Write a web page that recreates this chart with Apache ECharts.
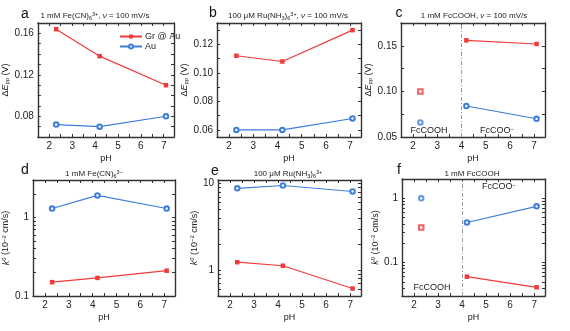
<!DOCTYPE html>
<html><head><meta charset="utf-8">
<script src="https://cdn.jsdelivr.net/npm/echarts@6/dist/echarts.min.js"></script>
<style>html,body{margin:0;padding:0;background:#fff}#c{width:570px;height:331px}</style>
</head><body><div id="c"></div>
<script>
// ---- data ----
const pH = [2.3, 4.2, 7.1];
const dEpp_Fe_GrAu = [0.164, 0.138, 0.110];
const dEpp_Fe_Au   = [0.072, 0.070, 0.080];
const dEpp_Ru_GrAu = [0.112, 0.108, 0.130];
const dEpp_Ru_Au   = [0.060, 0.060, 0.068];
const dEpp_Fc_GrAu = [0.100, 0.156, 0.152]; // first point isolated (FcCOOH)
const dEpp_Fc_Au   = [0.066, 0.084, 0.070];
const k0_Fe_GrAu = [0.150, 0.170, 0.210];
const k0_Fe_Au   = [1.30, 1.91, 1.30];
const k0_Ru_GrAu = [1.23, 1.12, 0.61];
const k0_Ru_Au   = [8.8, 9.5, 8.1];
const k0_Fc_GrAu = [0.35, 0.060, 0.041];
const k0_Fc_Au   = [1.0, 0.42, 0.75];
const xTickLabels = [2, 3, 4, 5, 6, 7];
const xMinorTicks = [1.5, 2, 2.5, 3, 3.5, 4, 4.5, 5, 5.5, 6, 6.5, 7];
const pKaLine = 4;
const seriesNames = ['Gr @ Au', 'Au'];

const RED = '#f23a3a', BLUE = '#3d7ddb', AX = '#333';
const FONT = 'Liberation Sans, Arial, sans-serif';

const grids = [
  {left: 32, top: 23, width: 142, height: 114},
  {left: 217, top: 23, width: 144, height: 114},
  {left: 401, top: 23, width: 144, height: 114},
  {left: 32, top: 180, width: 143, height: 116},
  {left: 218, top: 180, width: 143, height: 116},
  {left: 402, top: 179, width: 143, height: 117}
];

const yCfg = [
  {type: 'value', min: 0.06, max: 0.17, labels: [0.08, 0.12, 0.16], ticks: [0.06,0.07,0.08,0.09,0.10,0.11,0.12,0.13,0.14,0.15,0.16,0.17], dec: 2, gap: 24},
  {type: 'value', min: 0.055, max: 0.135, labels: [0.06, 0.08, 0.10, 0.12], ticks: [0.06,0.07,0.08,0.09,0.10,0.11,0.12,0.13], dec: 2, gap: 24},
  {type: 'value', min: 0.05, max: 0.175, labels: [0.05, 0.10, 0.15], ticks: [0.05,0.075,0.10,0.125,0.15,0.175], dec: 2, gap: 24},
  {type: 'log', min: 0.1, max: 3, labels: [0.1, 1], ticks: [0.1,0.2,0.3,0.4,0.5,0.6,0.7,0.8,0.9,1,2,3], gap: 22},
  {type: 'log', min: 0.5, max: 11, labels: [1, 10], ticks: [0.5,0.6,0.7,0.8,0.9,1,2,3,4,5,6,7,8,9,10], gap: 14},
  {type: 'log', min: 0.03, max: 2, labels: [0.1, 1], ticks: [0.03,0.04,0.05,0.06,0.07,0.08,0.09,0.1,0.2,0.3,0.4,0.5,0.6,0.7,0.8,0.9,1,2], gap: 18}
];

const richName = {
  n: {fontSize: 9, fontFamily: FONT, color: '#222'},
  it: {fontSize: 9, fontFamily: FONT, color: '#222', fontStyle: 'italic'},
  sub: {fontSize: 6, fontFamily: FONT, color: '#222', verticalAlign: 'bottom', padding: [4, 0, 0, 0]},
  sup: {fontSize: 6, fontFamily: FONT, color: '#222', verticalAlign: 'top', padding: [0, 0, 4, 0]}
};
const dEName = '{n|Δ}{it|E}{sub|pp}{n| (V)}';
const kName = '{it|k}{sup|0}{n| (10}{sup|−2}{n| cm/s)}';

const xAxis = [], yAxis = [];
grids.forEach((g, i) => {
  const base = {
    type: 'value', gridIndex: i, min: 1.5, max: 7.45,
    axisLine: {show: true, onZero: false, lineStyle: {color: AX, width: 1.4}},
    axisTick: {show: true, inside: true, length: 3, customValues: xMinorTicks, lineStyle: {color: AX}},
    splitLine: {show: false}
  };
  xAxis.push(Object.assign({}, base, {
    position: 'bottom',
    axisLabel: {customValues: xTickLabels, fontSize: 10, color: '#222', fontFamily: FONT, margin: 4},
    name: 'pH', nameLocation: 'middle', nameGap: 17,
    nameTextStyle: {fontSize: 9, color: '#222', fontFamily: FONT}
  }));
  xAxis.push(Object.assign({}, base, {position: 'top', axisLabel: {show: false}}));
  const c = yCfg[i];
  const ybase = {
    type: c.type, gridIndex: i, min: c.min, max: c.max,
    axisLine: {show: true, onZero: false, lineStyle: {color: AX, width: 1.4}},
    axisTick: {show: true, inside: true, length: 3, customValues: c.ticks, lineStyle: {color: AX}},
    splitLine: {show: false}, minorTick: {show: false}
  };
  yAxis.push(Object.assign({}, ybase, {
    position: 'left',
    axisLabel: {customValues: c.labels, fontSize: 10, color: '#222', fontFamily: FONT, margin: 4,
      formatter: v => c.dec ? v.toFixed(c.dec) : String(v)},
    name: i < 3 ? dEName : kName, nameLocation: 'middle', nameGap: c.gap, nameRotate: 90,
    nameTextStyle: {rich: richName}
  }));
  yAxis.push(Object.assign({}, ybase, {position: 'right', axisLabel: {show: false}}));
});

function pts(ys, from, to) {
  const out = [];
  for (let k = from; k < to; k++) out.push([pH[k], ys[k]]);
  return out;
}
const series = [];
function addLine(i, ys, isGr, from, to, named) {
  series.push({
    type: 'line', name: named ? seriesNames[isGr ? 0 : 1] : undefined,
    xAxisIndex: 2 * i, yAxisIndex: 2 * i,
    data: pts(ys, from, to),
    symbol: isGr ? 'rect' : 'emptyCircle', symbolSize: isGr ? 4.5 : 4.5,
    lineStyle: {color: isGr ? RED : BLUE, width: 1.2},
    itemStyle: {color: isGr ? RED : BLUE, borderWidth: isGr ? 0 : 1.3},
    z: isGr ? 3 : 4, animation: false
  });
}
function addIso(i, ys, isGr) {
  series.push({
    type: 'scatter', xAxisIndex: 2 * i, yAxisIndex: 2 * i,
    data: pts(ys, 0, 1),
    symbol: isGr ? 'emptyRect' : 'emptyCircle', symbolSize: 4.5,
    itemStyle: {color: isGr ? RED : BLUE, borderWidth: 1.2}, animation: false
  });
}
addLine(0, dEpp_Fe_GrAu, true, 0, 3, true);
addLine(0, dEpp_Fe_Au, false, 0, 3, true);
addLine(1, dEpp_Ru_GrAu, true, 0, 3);
addLine(1, dEpp_Ru_Au, false, 0, 3);
addLine(2, dEpp_Fc_GrAu, true, 1, 3);
addLine(2, dEpp_Fc_Au, false, 1, 3);
addIso(2, dEpp_Fc_GrAu, true);
addIso(2, dEpp_Fc_Au, false);
addLine(3, k0_Fe_GrAu, true, 0, 3);
addLine(3, k0_Fe_Au, false, 0, 3);
addLine(4, k0_Ru_GrAu, true, 0, 3);
addLine(4, k0_Ru_Au, false, 0, 3);
addLine(5, k0_Fc_GrAu, true, 1, 3);
addLine(5, k0_Fc_Au, false, 1, 3);
addIso(5, k0_Fc_GrAu, true);
addIso(5, k0_Fc_Au, false);

[2, 5].forEach(i => {
  series.push({
    type: 'line', xAxisIndex: 2 * i, yAxisIndex: 2 * i, data: [], silent: true,
    markLine: {silent: true, symbol: 'none', label: {show: false},
      lineStyle: {color: '#999', width: 1, type: [4, 2, 1, 2]},
      data: [{xAxis: pKaLine}]}
  });
});

const tRich = {
  n: {fontSize: 8, fontFamily: FONT, color: '#222'},
  it: {fontSize: 8, fontFamily: FONT, color: '#222', fontStyle: 'italic'},
  sub: {fontSize: 5.5, fontFamily: FONT, color: '#222', verticalAlign: 'bottom', padding: [4, 0, 0, 0]},
  sup: {fontSize: 5.5, fontFamily: FONT, color: '#222', verticalAlign: 'top', padding: [0, 0, 4, 0]}
};
function txt(x, y, text, rich, extra) {
  return Object.assign({type: 'text', x, y, style: {text, rich, align: 'center', verticalAlign: 'middle', fill: '#222', font: '9px ' + FONT}, silent: true}, extra || {});
}
const letterStyle = (x, y, s) => ({type: 'text', x, y, style: {text: s, fill: '#111', font: '14px ' + FONT, align: 'center', verticalAlign: 'middle'}});
const supRich = {n: {fontSize: 9, fontFamily: FONT, color: '#222'}, sup: {fontSize: 6, fontFamily: FONT, color: '#222', verticalAlign: 'top', padding: [0, 0, 4, 0]}};
const graphic = [
  letterStyle(25, 14, 'a'), letterStyle(213, 13, 'b'), letterStyle(399, 13, 'c'),
  letterStyle(25, 170, 'd'), letterStyle(215, 171, 'e'), letterStyle(399, 170, 'f'),
  txt(95, 16, '{n|1 mM Fe(CN)}{sub|6}{sup|3+}{n|, }{it|ν}{n| = 100 mV/s}', tRich),
  txt(288, 16, '{n|100 μM Ru(NH}{sub|3}{n|)}{sub|6}{sup|3+}{n|, }{it|ν}{n| = 100 mV/s}', tRich),
  txt(474, 16, '{n|1 mM FcCOOH, }{it|ν}{n| = 100 mV/s}', tRich),
  txt(94, 174, '{n|1 mM Fe(CN)}{sub|6}{sup|3−}', tRich),
  txt(288, 174, '{n|100 μM Ru(NH}{sub|3}{n|)}{sub|6}{sup|3+}', tRich),
  txt(472, 174, '{n|1 mM FcCOOH}', tRich),
  txt(429, 131, 'FcCOOH', null),
  txt(497, 131, '{n|FcCOO}{sup|−}', supRich),
  txt(432, 288, 'FcCOOH', null),
  txt(499, 187, '{n|FcCOO}{sup|−}', supRich)
];

const chart = echarts.init(document.getElementById('c'), null, {renderer: 'canvas'});
chart.setOption({
  animation: false,
  backgroundColor: '#fff',
  grid: grids.map(g => Object.assign({containLabel: false}, g)),
  xAxis, yAxis, series, graphic,
  legend: {
    data: seriesNames, orient: 'vertical', left: 114, top: 27, itemGap: 1,
    itemWidth: 22, itemHeight: 5,
    textStyle: {fontSize: 9, fontFamily: FONT, color: '#222', padding: [0, 0, 0, -2]}
  }
});
</script></body></html>
